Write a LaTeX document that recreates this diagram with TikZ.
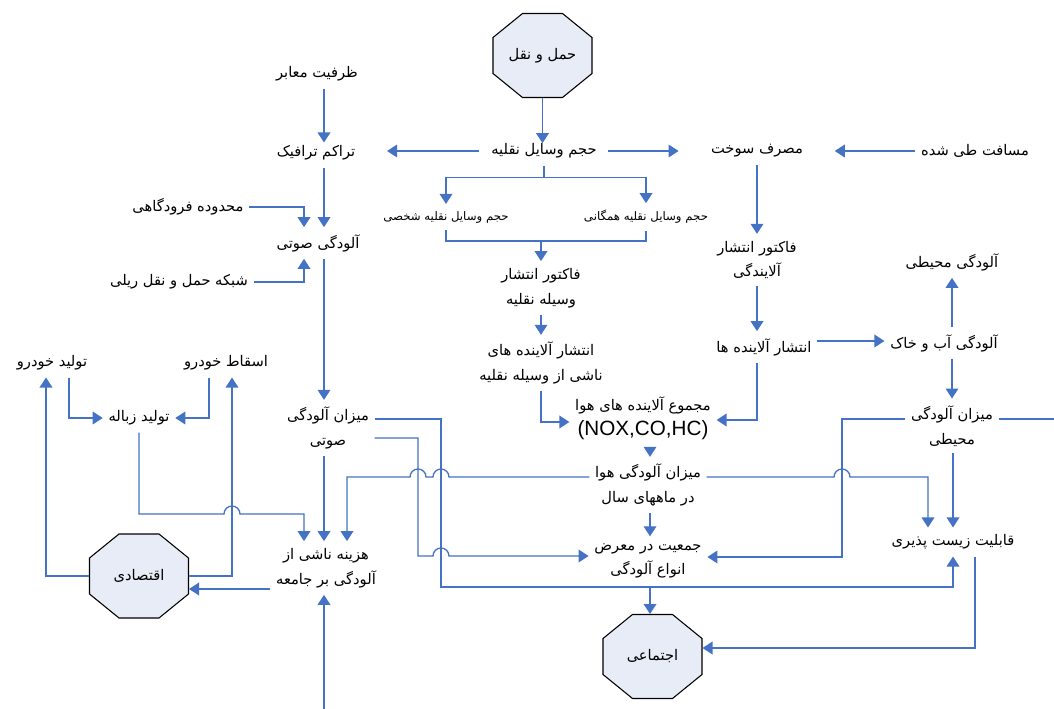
\documentclass[tikz,border=0pt]{standalone}
\usepackage{fontspec}
\usetikzlibrary{arrows.meta,calc}
\newfontfamily\farsi[Script=Arabic]{DejaVu Sans}
\newfontfamily\latin{Liberation Sans}
\TeXXeTstate=1
\definecolor{lineblue}{RGB}{68,114,196}
\definecolor{octfill}{RGB}{231,236,246}
\newcommand{\fa}[1]{\beginR #1\endR}
% octagon: name, x, y, text
\newcommand{\octnode}[4]{%
  \draw[octa] (#2-20,#3-42) -- (#2+20,#3-42) -- (#2+49.5,#3-18) -- (#2+49.5,#3+18) -- (#2+20,#3+42) -- (#2-20,#3+42) -- (#2-49.5,#3+18) -- (#2-49.5,#3-18) -- cycle;
  \node[octbox] (#1) at (#2,#3) {#4};}
\tikzset{every picture/.style={line width=0.75pt}}

\begin{document}
\begin{tikzpicture}[x=0.75pt,y=0.75pt,yscale=-1,xscale=1,
  link/.style={draw=lineblue,line width=1pt},
  arr/.style={link,-{Triangle[width=9.5pt,length=7.5pt]}},
  txt/.style={font=\farsi\fontsize{11}{18.5}\selectfont,inner xsep=4pt,inner ysep=5pt,align=center},
  txtsmall/.style={txt,font=\farsi\fontsize{8.8}{10}\selectfont},
  octa/.style={draw=black,fill=octfill,line width=0.8pt},
  octbox/.style={txt,minimum width=74.25pt,minimum height=63pt,inner sep=0pt}]
\useasboundingbox (0,0) rectangle (1054,709);

%Shape: Octagons
\octnode{haml}{542.5}{55.5}{\fa{حمل و نقل}}
\octnode{eqtesadi}{139}{576}{\fa{اقتصادی}}
\octnode{ejtemai}{652.5}{656.5}{\fa{اجتماعی}}

% Text Node
\node[txt] (zarfiat) at (317,74) {\fa{ظرفیت معابر}};
\node[txt] (tarakom) at (316,153) {\fa{تراکم ترافیک}};
\node[txt] (hajm) at (544,151) {\fa{حجم وسایل نقلیه}};
\node[txt] (masraf) at (757,151) {\fa{مصرف سوخت}};
\node[txt] (masafat) at (975,151) {\fa{مسافت طی شده}};
\node[txtsmall] (shakhsi) at (446,217) {\fa{حجم وسایل نقلیه شخصی}};
\node[txtsmall] (hamegani) at (646,217) {\fa{حجم وسایل نقلیه همگانی}};
\node[txt] (forudgahi) at (188,207) {\fa{محدوده فرودگاهی}};
\node[txt] (soti) at (318,243) {\fa{آلودگی صوتی}};
\node[txt] (reyli) at (179,282) {\fa{شبکه حمل و نقل ریلی}};
\node[txt] (faktor1) at (541,288) {\fa{فاکتور انتشار}\\\fa{وسیله نقلیه}};
\node[txt] (faktor2) at (757,260) {\fa{فاکتور انتشار}\\\fa{آلایندگی}};
\node[txt] (mohiti) at (952,262) {\fa{آلودگی محیطی}};
\node[txt] (abkhak) at (944,343) {\fa{آلودگی آب و خاک}};
\node[txt] (enteshar) at (764,347) {\fa{انتشار آلاینده ها}};
\node[txt] (enteshar2) at (541,363) {\fa{انتشار آلاینده های}\\\fa{ناشی از وسیله نقلیه}};
\node[txt] (majmu) at (643,418) {\fa{مجموع آلاینده های هوا}\\{\latin\fontsize{15.5}{17}\selectfont (NOX,CO,HC)}};
\node[txt] (mizmohiti) at (952,426) {\fa{میزان آلودگی}\\\fa{محیطی}};
\node[txt] (mizsoti) at (328,428) {\fa{میزان آلودگی}\\\fa{صوتی}};
\node[txt] (tolid) at (52,363) {\fa{تولید خودرو}};
\node[txt] (eskat) at (226,363) {\fa{اسقاط خودرو}};
\node[txt] (zobale) at (139,418) {\fa{تولید زباله}};
\node[txt] (mizhava) at (648,485) {\fa{میزان آلودگی هوا}\\\fa{در ماههای سال}};
\node[txt] (jamiat) at (648,561) {\fa{جمعیت در معرض}\\\fa{انواع آلودگی}};
\node[txt] (hazine) at (326,568) {\fa{هزینه ناشی از}\\\fa{آلودگی بر جامعه}};
\node[txt] (zist) at (953,542) {\fa{قابلیت زیست پذیری}};
\coordinate (bot) at (324,709);

%Straight Lines
\draw[arr] (haml.south) -- ([yshift=5pt]haml.south |- hajm.north);
\draw[arr] ([xshift=-5pt]hajm.west) -- ([xshift=19.5pt]tarakom.east |- hajm.west);
\draw[arr] ([xshift=4pt]hajm.east) -- ([xshift=-20pt]masraf.west |- hajm.east);
\draw[arr] (masafat.west) -- ([xshift=19.5pt]masraf.east);
\draw[arr] (zarfiat.south -| 324,0) -- ([yshift=3pt]tarakom.north -| 324,0);
\draw[arr] (hajm.south) -- ++(0,12) -| (shakhsi.north);
\draw[arr] (hajm.south) ++(0,12) -| (hamegani.north);
\draw[link] (shakhsi.south) -- ++(0,11) coordinate (bl) -| (hamegani.south);
\draw[arr] (faktor1.north |- bl) -- (faktor1.north);
\draw[arr] (faktor1.south) -- (enteshar2.north);
\draw[arr] (enteshar2.south) |- (majmu.west |- 0,422);
\draw[arr] (masraf.south) -- (faktor2.north);
\draw[arr] (faktor2.south) -- (faktor2.south |- enteshar.north);
\draw[arr] (enteshar.south -| faktor2.south) |- (majmu.east |- 0,420);
\draw[arr] (enteshar.east |- 0,341) -- (abkhak.west |- 0,341);
\draw[arr] (abkhak.north -| mohiti.south) -- (mohiti.south);
\draw[arr] (abkhak.south -| mizmohiti.north) -- (mizmohiti.north);
\draw[arr] (majmu.south -| 650,0) -- (mizhava.north -| 650,0);
\draw[arr] (mizhava.south -| 650,0) -- (jamiat.north -| 650,0);
\draw[arr] (jamiat.south -| 650,0) -- (ejtemai.north -| 650,0);
\draw[arr] (tarakom.south -| 324,0) -- (soti.north -| 324,0);
\draw[arr] (forudgahi.east) -| (soti.north -| 304,0);
\draw[arr] (reyli.east) -| (soti.south -| 304,0);
\draw[arr] (soti.south -| 324,0) -- (mizsoti.north -| 324,0);
\draw[arr] (mizsoti.south -| 324,0) -- (hazine.north -| 324,0);
\draw[arr] (bot) -- (hazine.south -| bot);
\draw[arr] (mizsoti.east |- 0,419) -| (441,587) -| (zist.south);
\draw[arr] (mizsoti.east |- 0,438) -| (418,556) -- (433,556) arc[start angle=180,end angle=360,radius=8] -- (jamiat.west |- 0,556);
\draw[arr] (mizhava.west |- 0,477) -- (449,477) arc[start angle=0,end angle=-180,radius=8] -- (426,477) arc[start angle=0,end angle=-180,radius=8] -- (347,477) -- (hazine.north -| 347,0);
\draw[arr] (mizhava.east |- 0,477) -- (834,477) arc[start angle=180,end angle=360,radius=8] -- (928,477) -- (zist.north -| 928,0);
\draw[arr] (mizmohiti.west |- 0,419) -| (842,557) -- (jamiat.east |- 0,557);
\draw[link] (mizmohiti.east |- 0,419) -- (1054,419);
\draw[arr] (mizmohiti.south -| zist.north) -- (zist.north);
\draw[arr] (zist.south -| 975,0) |- (ejtemai.east |- 0,648);
\draw[arr] (hazine.west |- 0,589) -- (eqtesadi.east |- 0,589);
\draw[arr] (eqtesadi.west |- 0,576) -| (tolid.south -| 46,0);
\draw[arr] (eqtesadi.east |- 0,576) -| (eskat.south -| 232,0);
\draw[arr] (tolid.south -| 69,0) |- (zobale.west);
\draw[arr] (eskat.south -| 209,0) |- (zobale.east);
\draw[arr] (zobale.south) |- (224,514) arc[start angle=180,end angle=360,radius=8] -- (304,514) -- (hazine.north -| 304,0);

\end{tikzpicture}
\end{document}
